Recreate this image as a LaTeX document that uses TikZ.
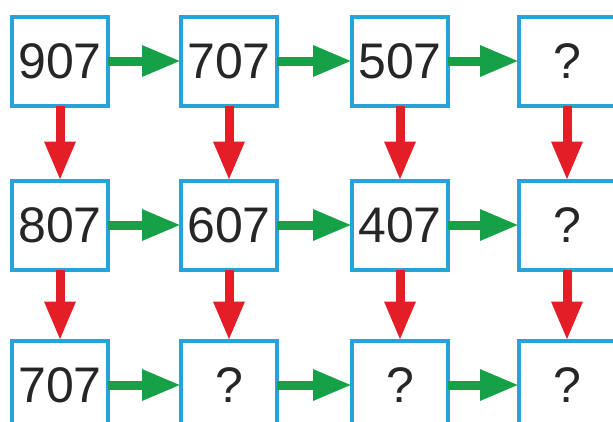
\documentclass[tikz,border=0pt]{standalone}
\usepackage{fontspec}
\setmainfont{Liberation Sans}
\usetikzlibrary{arrows.meta}
\definecolor{boxblue}{RGB}{38,163,216}
\definecolor{arrgreen}{RGB}{22,161,72}
\definecolor{arrred}{RGB}{228,30,38}
\begin{document}
\begin{tikzpicture}[x=1pt,y=-1pt,
  numbox/.style={draw=boxblue,line width=4pt,minimum width=96pt,minimum height=89pt,
    inner sep=0pt,outer sep=0pt,font=\fontsize{50}{60}\selectfont,text=black!85},
  garr/.style={draw=arrgreen,line width=9pt,-{Triangle[length=39pt,width=29pt]},arrgreen},
  rarr/.style={draw=arrred,line width=9pt,-{Triangle[length=39pt,width=29pt]},arrred}]
\useasboundingbox (0,0) rectangle (613,421);
\fill[white] (0,0) rectangle (613,421);
\node[numbox] (a1) at (60,61) {907};
\node[numbox] (a2) at (229,61) {707};
\node[numbox] (a3) at (400,61) {507};
\node[numbox] (a4) at (567,61) {?};
\node[numbox] (b1) at (60,225) {807};
\node[numbox] (b2) at (229,225) {607};
\node[numbox] (b3) at (400,225) {407};
\node[numbox] (b4) at (567,225) {?};
\node[numbox] (c1) at (60,385) {707};
\node[numbox] (c2) at (229,385) {?};
\node[numbox] (c3) at (400,385) {?};
\node[numbox] (c4) at (567,385) {?};
\foreach \r in {a,b,c}{
  \draw[garr] (\r1.east) -- (\r2.west);
  \draw[garr] (\r2.east) -- (\r3.west);
  \draw[garr] (\r3.east) -- (\r4.west);
}
\foreach \c in {1,2,3,4}{
  \draw[rarr] (a\c.south) -- (b\c.north);
  \draw[rarr] (b\c.south) -- (c\c.north);
}
\end{tikzpicture}
\end{document}
